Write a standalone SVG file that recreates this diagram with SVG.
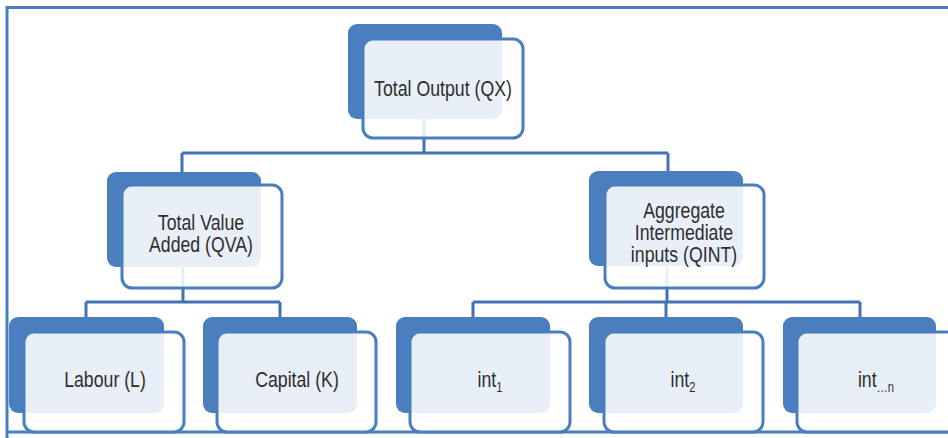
<svg xmlns="http://www.w3.org/2000/svg" width="948" height="438" viewBox="0 0 948 438">
<style>
.back{fill:#4A7EBF;}
.front{fill:#FFFFFF;fill-opacity:0.88;stroke:#4A7EBF;stroke-width:3;}
.lbl{font-family:"Liberation Sans",Arial,sans-serif;font-size:22px;fill:#2E2E2E;text-anchor:middle;}
.sub{font-size:14px;}
.conn{fill:none;stroke:#4272B4;stroke-width:3;stroke-linejoin:miter;}
</style>
<rect x="0" y="0" width="948" height="438" fill="#FFFFFF"/>
<path d="M7 440 V7.5 H950" fill="none" stroke="#4A7EBF" stroke-width="3"/>
<line x1="7" y1="432" x2="950" y2="432" stroke="#4A7EBF" stroke-width="3"/>
<g id="connectors" class="conn">
<path d="M424 119 V153 M182 153 H668 M182 153 V172 M668 153 V171"/>
<path d="M183 267 V302 M86 302 H280 M86 302 V317 M280 302 V317"/>
<path d="M667 266 V302 M473 302 H860 M473 302 V317 M666 302 V317 M860 302 V317"/>
</g>
<g id="node-qx">
<rect class="back" x="348" y="24" width="154" height="95" rx="9"/>
<rect class="front" x="363" y="39" width="160" height="99" rx="10"/>
<text class="lbl" transform="translate(443,96) scale(0.805,1)">Total Output (QX)</text>
</g>
<g id="node-qva">
<rect class="back" x="107" y="172" width="154" height="95" rx="9"/>
<rect class="front" x="122" y="185" width="160" height="103" rx="10"/>
<text class="lbl" transform="translate(201,230) scale(0.805,1)">Total Value</text>
<text class="lbl" transform="translate(201,252) scale(0.805,1)">Added (QVA)</text>
</g>
<g id="node-qint">
<rect class="back" x="589" y="171" width="154" height="95" rx="9"/>
<rect class="front" x="605" y="185" width="159" height="103" rx="10"/>
<text class="lbl" transform="translate(684,218) scale(0.805,1)">Aggregate</text>
<text class="lbl" transform="translate(684,240) scale(0.805,1)">Intermediate</text>
<text class="lbl" transform="translate(684,262) scale(0.805,1)">inputs (QINT)</text>
</g>
<g id="node-labour">
<rect class="back" x="9" y="317" width="155" height="96" rx="9"/>
<rect class="front" x="24" y="332" width="160" height="100" rx="10"/>
<text class="lbl" transform="translate(105,387) scale(0.805,1)">Labour (L)</text>
</g>
<g id="node-capital">
<rect class="back" x="203" y="317" width="154" height="96" rx="9"/>
<rect class="front" x="217" y="332" width="159" height="100" rx="10"/>
<text class="lbl" transform="translate(297,387) scale(0.805,1)">Capital (K)</text>
</g>
<g id="node-int1">
<rect class="back" x="396" y="317" width="154" height="96" rx="9"/>
<rect class="front" x="410" y="332" width="160" height="100" rx="10"/>
<text class="lbl" transform="translate(490,387) scale(0.805,1)">int<tspan class="sub" dy="5">1</tspan></text>
</g>
<g id="node-int2">
<rect class="back" x="589" y="317" width="154" height="96" rx="9"/>
<rect class="front" x="604" y="332" width="159" height="100" rx="10"/>
<text class="lbl" transform="translate(683,387) scale(0.805,1)">int<tspan class="sub" dy="5">2</tspan></text>
</g>
<g id="node-intn">
<rect class="back" x="783" y="317" width="153" height="96" rx="9"/>
<rect class="front" x="797" y="332" width="160" height="100" rx="10"/>
<text class="lbl" transform="translate(876,387) scale(0.805,1)">int<tspan class="sub" dy="5">…n</tspan></text>
</g>
</svg>
